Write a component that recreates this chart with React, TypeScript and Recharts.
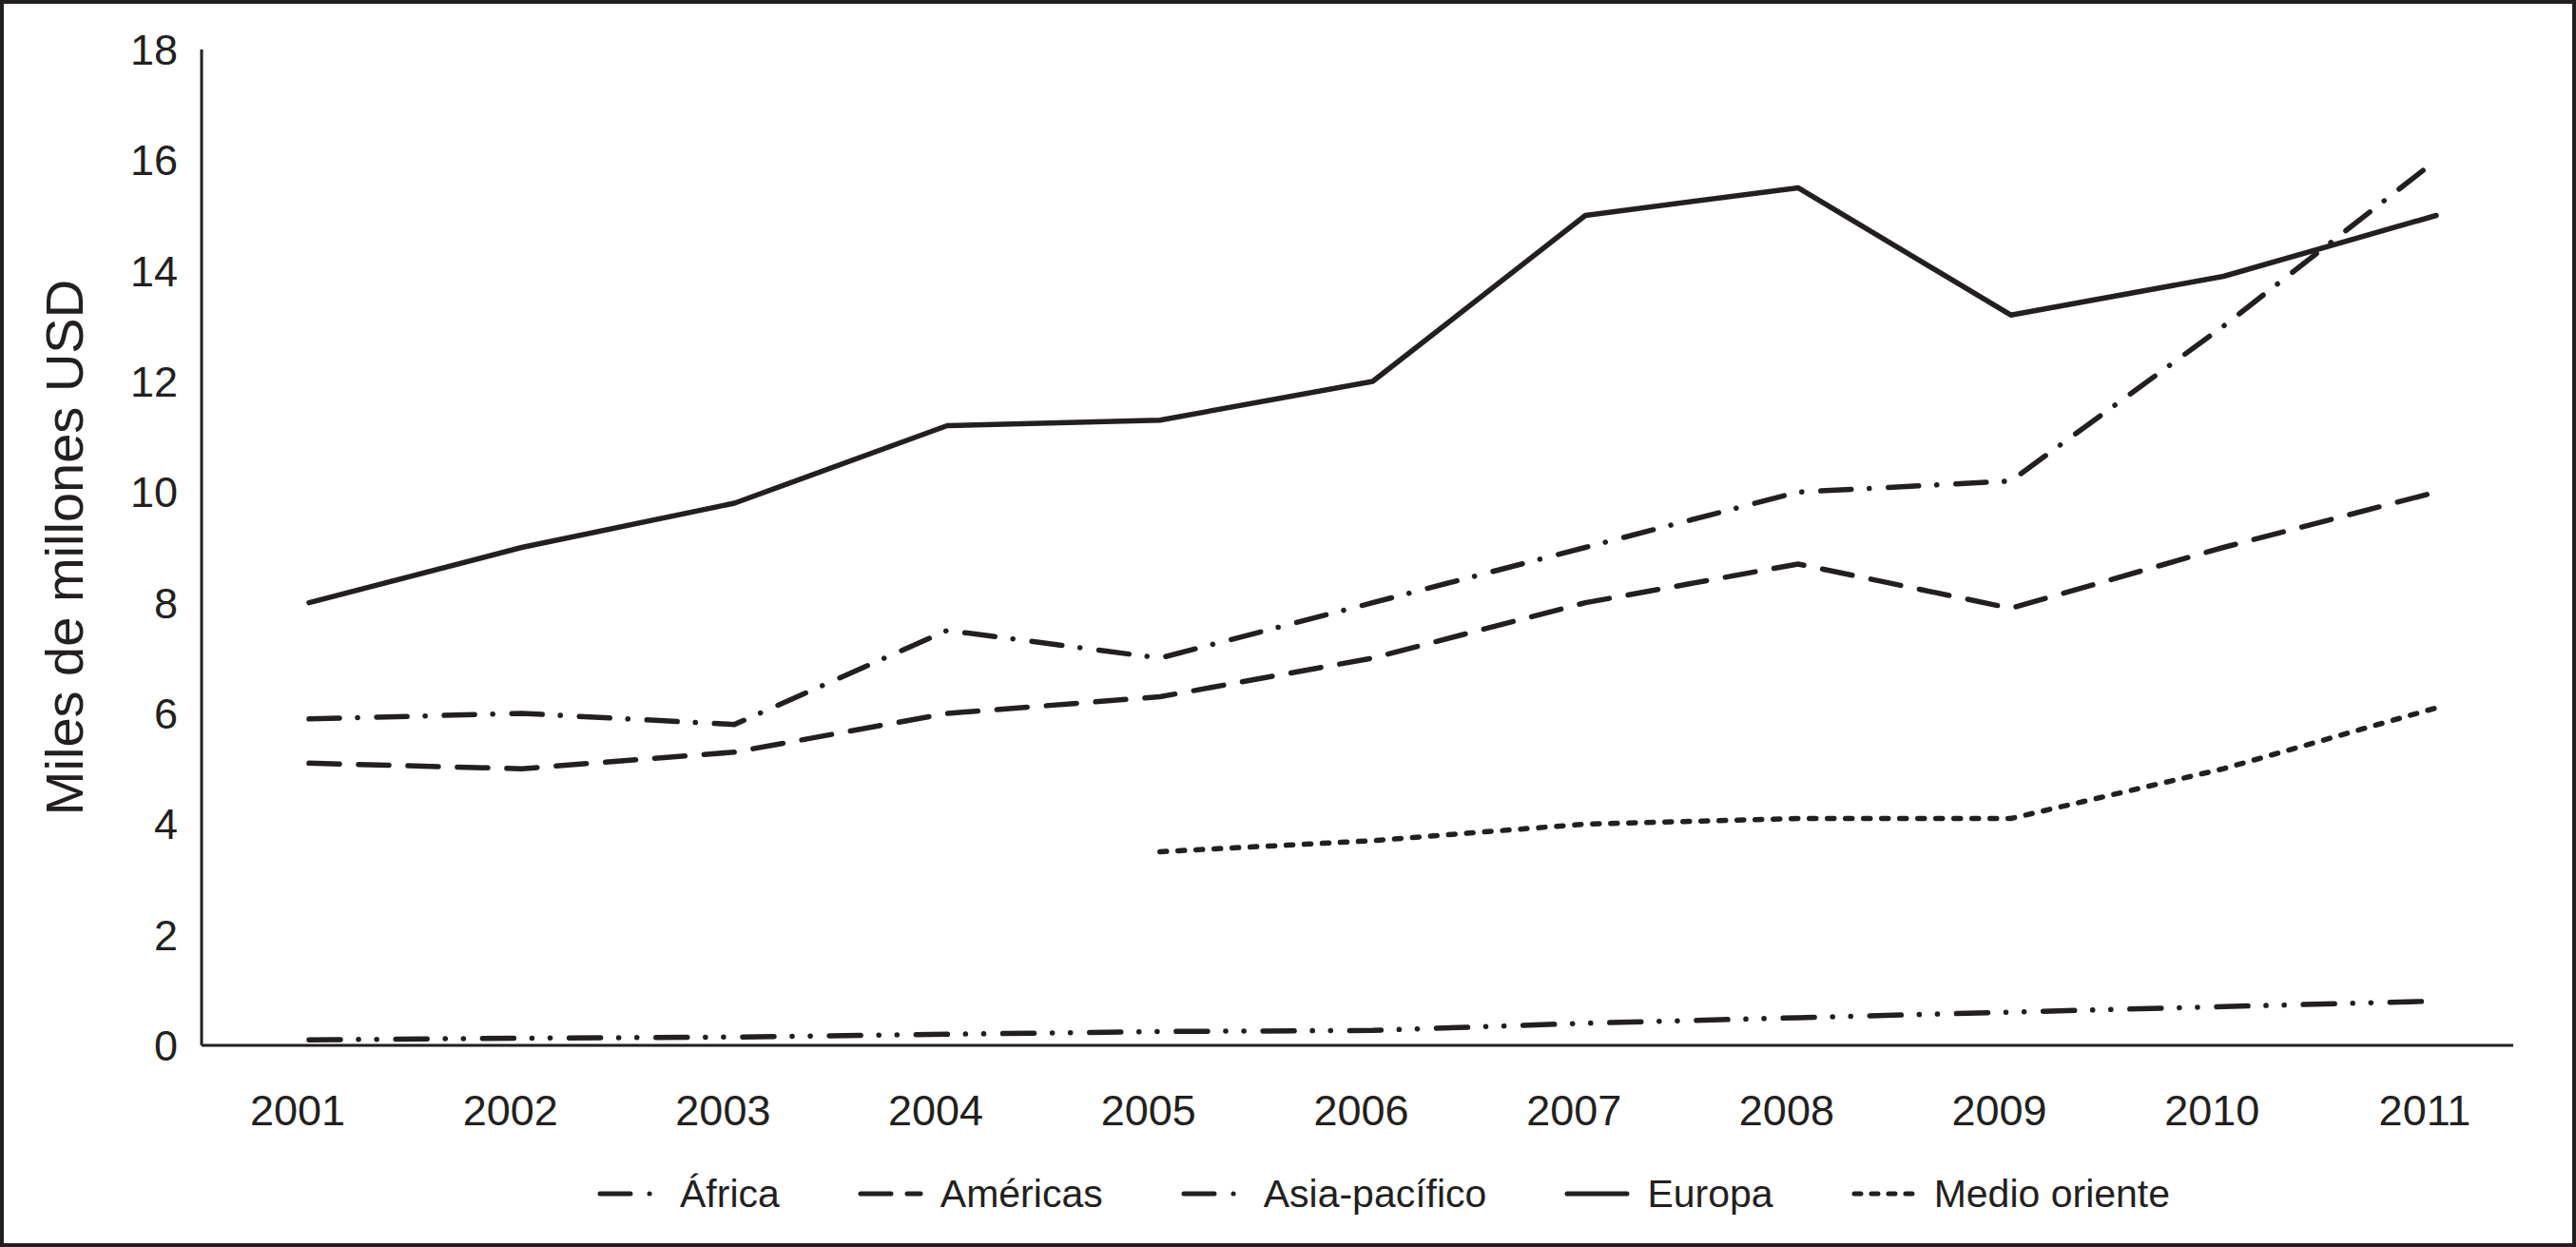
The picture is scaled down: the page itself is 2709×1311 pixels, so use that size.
import React from 'react';
import { LineChart, Line, XAxis, YAxis, Legend } from 'recharts';

const years = ['2001', '2002', '2003', '2004', '2005', '2006', '2007', '2008', '2009', '2010', '2011'];
const africa = [0.1, 0.13, 0.15, 0.2, 0.25, 0.27, 0.4, 0.5, 0.6, 0.7, 0.8];
const americas = [5.1, 5.0, 5.3, 6.0, 6.3, 7.0, 8.0, 8.7, 7.9, 9.0, 10.0];
const asiaPacifico = [5.9, 6.0, 5.8, 7.5, 7.0, 8.0, 9.0, 10.0, 10.2, 13.0, 16.0];
const europa = [8.0, 9.0, 9.8, 11.2, 11.3, 12.0, 15.0, 15.5, 13.2, 13.9, 15.0];
const medioOriente = [null, null, null, null, 3.5, 3.7, 4.0, 4.1, 4.1, 5.0, 6.1];
const yTicks = [0, 2, 4, 6, 8, 10, 12, 14, 16, 18];

const INK = '#231f20';
const FONT = '"Liberation Sans", Arial, Helvetica, sans-serif';
const W = 2709;
const H = 1311;

const series = [
  { key: 'africa', name: 'África', dash: '33 19 0.1 19 0.1 20' },
  { key: 'americas', name: 'Américas', dash: '32 20' },
  { key: 'asia', name: 'Asia-pacífico', dash: '32 19 0.1 20' },
  { key: 'europa', name: 'Europa', dash: undefined },
  { key: 'medio', name: 'Medio oriente', dash: '7 12' },
];

const data = years.map((year, i) => ({
  year,
  africa: africa[i],
  americas: americas[i],
  asia: asiaPacifico[i],
  europa: europa[i],
  medio: medioOriente[i],
}));

function LegendIcon({ kind }: { kind: string }) {
  const common = { stroke: INK, strokeWidth: 5, strokeLinecap: 'round' as const };
  let lines: React.ReactNode;
  if (kind === 'africa' || kind === 'asia') {
    lines = (
      <>
        <line x1={3} y1={6} x2={35} y2={6} {...common} />
        <line x1={55} y1={6} x2={55.1} y2={6} {...common} />
      </>
    );
  } else if (kind === 'americas') {
    lines = (
      <>
        <line x1={3} y1={6} x2={35} y2={6} {...common} />
        <line x1={52} y1={6} x2={66} y2={6} {...common} />
      </>
    );
  } else if (kind === 'europa') {
    lines = <line x1={3} y1={6} x2={66} y2={6} {...common} />;
  } else {
    lines = <line x1={3} y1={6} x2={66} y2={6} {...common} strokeDasharray="7 11" />;
  }
  return (
    <svg width={69} height={12} style={{ display: 'block' }}>
      {lines}
    </svg>
  );
}

function LegendBox() {
  return (
    <div
      style={{
        display: 'flex',
        alignItems: 'center',
        height: 50,
        paddingLeft: 628,
        fontFamily: FONT,
        fontSize: 41,
        color: INK,
      }}
    >
      {series.map((s, i) => (
        <div
          key={s.key}
          style={{ display: 'flex', alignItems: 'center', marginLeft: i === 0 ? 0 : 82 }}
        >
          <LegendIcon kind={s.key} />
          <span style={{ marginLeft: 18, lineHeight: '50px' }}>{s.name}</span>
        </div>
      ))}
    </div>
  );
}

function YTitle(props: any) {
  const vb = props.viewBox || {};
  const cy = vb.height ? vb.y + vb.height / 2 : 575;
  return (
    <text
      x={67}
      y={cy}
      transform={`rotate(-90, 67, ${cy})`}
      textAnchor="middle"
      dominantBaseline="central"
      fill={INK}
      fontSize={56}
      fontFamily={FONT}
    >
      Miles de millones USD
    </text>
  );
}

export default function App() {
  return (
    <div style={{ position: 'relative', width: W, height: H, background: '#fff' }}>
      <style>{'body{margin:0}'}</style>
      <LineChart
        width={W}
        height={H}
        data={data}
        margin={{ top: 52, right: 66, bottom: 152, left: 112 }}
      >
        <XAxis
          dataKey="year"
          height={60}
          padding={{ left: 113, right: 81 }}
          axisLine={{ stroke: INK, strokeWidth: 3 }}
          tickLine={false}
          tickSize={6}
          tickMargin={46}
          tick={{ fill: INK, fontSize: 45, fontFamily: FONT, dx: -12 }}
          interval={0}
        />
        <YAxis
          width={100}
          domain={[0, 18]}
          ticks={yTicks}
          interval={0}
          axisLine={{ stroke: INK, strokeWidth: 3 }}
          tickLine={false}
          tickSize={6}
          tickMargin={19}
          tick={{ fill: INK, fontSize: 45, fontFamily: FONT }}
          label={<YTitle />}
        />
        <Legend
          layout="horizontal"
          verticalAlign="middle"
          align="center"
          wrapperStyle={{ top: 1230, left: 0, width: W, height: 50 }}
          content={() => <LegendBox />}
        />
        {series.map((s) => (
          <Line
            key={s.key}
            type="linear"
            dataKey={s.key}
            name={s.name}
            stroke={INK}
            strokeWidth={5.5}
            strokeLinecap="round"
            strokeLinejoin="round"
            strokeDasharray={s.dash}
            dot={false}
            activeDot={false}
            isAnimationActive={false}
          />
        ))}
      </LineChart>
      <div
        style={{
          position: 'absolute',
          left: 0,
          top: 0,
          width: W,
          height: H,
          boxSizing: 'border-box',
          border: `4px solid ${INK}`,
          pointerEvents: 'none',
        }}
      />
    </div>
  );
}
